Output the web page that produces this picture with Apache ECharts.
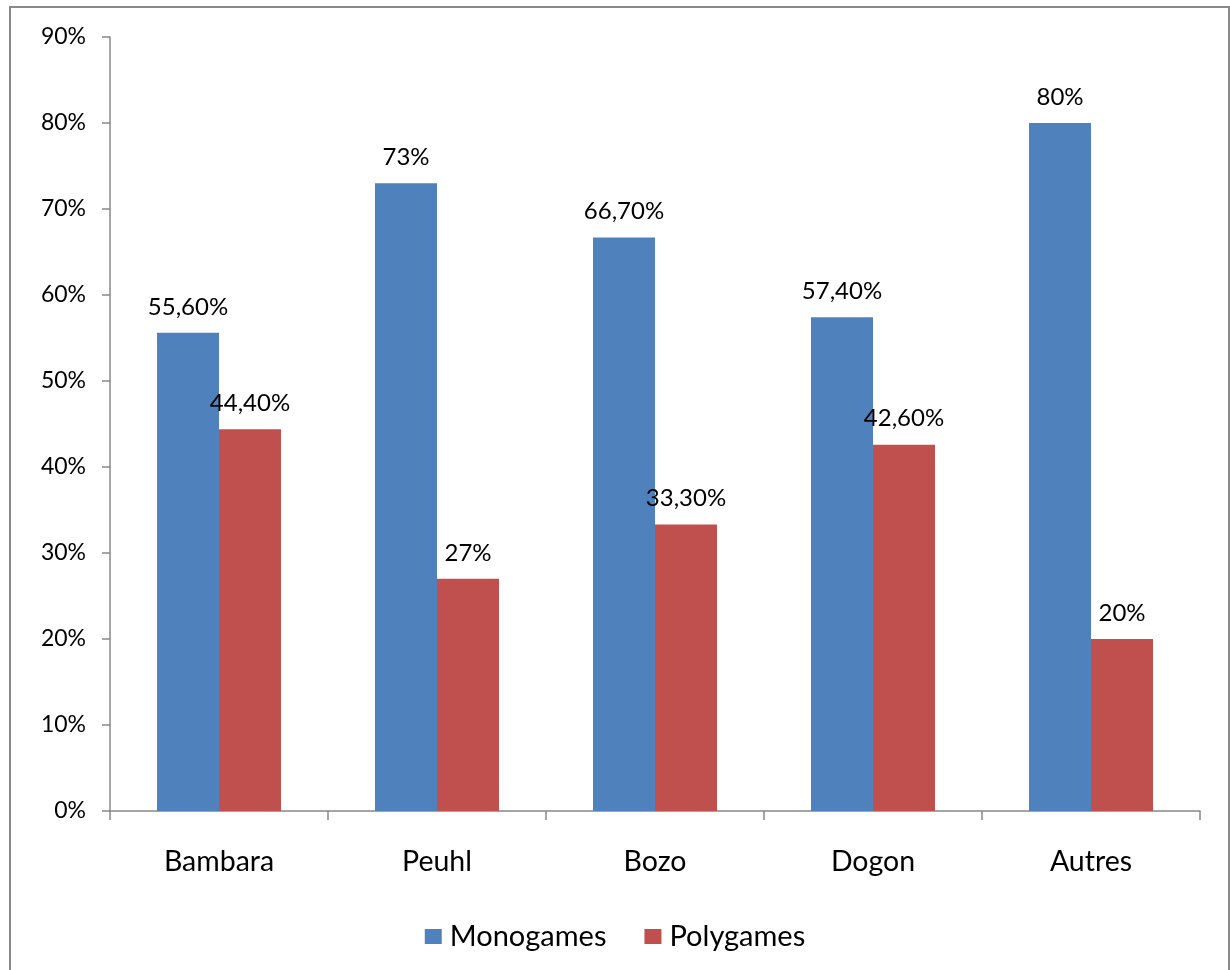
<!DOCTYPE html>
<html>
<head>
<meta charset="utf-8">
<script src="https://cdn.jsdelivr.net/npm/echarts@6/dist/echarts.min.js"></script>
<style>html,body{margin:0;padding:0;background:#fff}#c{width:1230px;height:970px}</style>
</head>
<body>
<div id="c"></div>
<script>
var categories = ['Bambara', 'Peuhl', 'Bozo', 'Dogon', 'Autres'];
var monogames = [55.6, 73, 66.7, 57.4, 80];
var polygames = [44.4, 27, 33.3, 42.6, 20];
var monoLabels = ['55,60%', '73%', '66,70%', '57,40%', '80%'];
var polyLabels = ['44,40%', '27%', '33,30%', '42,60%', '20%'];
var seriesNames = ['Monogames', 'Polygames'];

var FONT = 'Lato';
var chart = echarts.init(document.getElementById('c'), null, {renderer: 'canvas'});
chart.setOption({
  animation: false,
  textStyle: {fontFamily: FONT},
  graphic: [{
    type: 'rect', silent: true,
    shape: {x: 10, y: 7, width: 1219, height: 1000},
    style: {fill: 'none', stroke: '#8a8a8a', lineWidth: 2}
  }],
  grid: {left: 110, right: 30, top: 37, bottom: 159, containLabel: false},
  legend: {
    data: seriesNames, left: 'center', top: 917, itemWidth: 17, itemHeight: 15,
    itemGap: 38, icon: 'rect',
    textStyle: {fontSize: 29, color: '#000', fontFamily: FONT, padding: [0, 0, 0, 3]}
  },
  xAxis: {
    type: 'category', data: categories,
    axisLine: {lineStyle: {color: '#888', width: 1.5}},
    axisTick: {show: true, length: 9, lineStyle: {color: '#888', width: 1.5}},
    axisLabel: {fontSize: 28.5, color: '#000', margin: 36, fontFamily: FONT}
  },
  yAxis: {
    type: 'value', min: 0, max: 90, interval: 10,
    axisLine: {show: true, lineStyle: {color: '#888', width: 1.5}},
    axisTick: {show: true, length: 8, lineStyle: {color: '#888', width: 1.5}},
    splitLine: {show: false},
    axisLabel: {formatter: '{value}%', fontSize: 23, color: '#000', margin: 24, fontFamily: FONT}
  },
  series: [{
    name: seriesNames[0], type: 'bar', data: monogames, barWidth: 62, barGap: '0%',
    itemStyle: {color: '#4F81BD'},
    label: {show: true, position: 'top', distance: 14, fontSize: 24, color: '#000', fontFamily: FONT,
      formatter: function (p) { return monoLabels[p.dataIndex]; }}
  }, {
    name: seriesNames[1], type: 'bar', data: polygames, barWidth: 62,
    itemStyle: {color: '#C0504D'},
    label: {show: true, position: 'top', distance: 14, fontSize: 24, color: '#000', fontFamily: FONT,
      formatter: function (p) { return polyLabels[p.dataIndex]; }}
  }]
});
</script>
</body>
</html>
